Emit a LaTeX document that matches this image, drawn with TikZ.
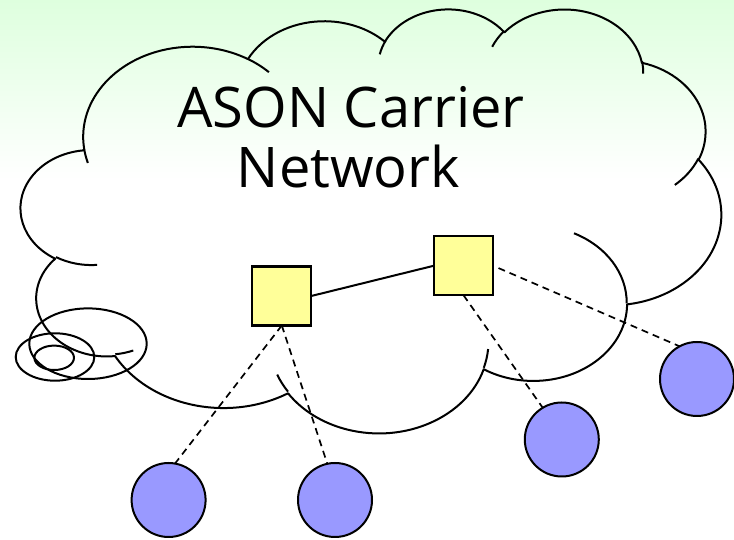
\documentclass[tikz,border=0pt]{standalone}
\usepackage{fontspec}
\setmainfont{Open Sans}
\definecolor{bggreen}{RGB}{222,255,222}
\definecolor{sqfill}{RGB}{255,255,153}
\definecolor{cifill}{RGB}{153,153,255}
% cloud arc helper: id, wR, hR, start angle (deg, DrawingML), sweep (deg)
\newcommand\cldarc[5]{%
  \pgfmathsetmacro\cldtA{#4}%
  \pgfmathsetmacro\cldtB{#4+#5}%
  \pgfmathsetmacro\cldpA{atan2(#2*sin(\cldtA),#3*cos(\cldtA))}%
  \pgfmathsetmacro\cldpB{atan2(#2*sin(\cldtB),#3*cos(\cldtB))}%
  \pgfmathsetmacro\cldd{mod(\cldpB-\cldpA+720,360)}%
  \pgfmathsetmacro\cldtmpS{-\cldpA}%
  \pgfmathsetmacro\cldtmpD{-\cldd}%
  \pgfmathsetmacro\cldtmpX{#2*0.0162037}%
  \pgfmathsetmacro\cldtmpY{#3*0.0098148}%
  \edef\cldtmp{\noexpand\tikzset{cld#1/.style={start angle=\cldtmpS,delta angle=\cldtmpD,x radius=\cldtmpX pt,y radius=\cldtmpY pt}}}%
  \cldtmp}
% outline arcs
\cldarc{A}{6753}{9190}{-190.4875}{123.7805}
\cldarc{B}{5333}{7267}{-144.1024}{89.9452}
\cldarc{C}{4365}{5945}{-145.8079}{99.7230}
\cldarc{D}{4857}{6595}{-130.9861}{117.2417}
\cldarc{E}{5333}{7273}{-78.7089}{109.0269}
\cldarc{F}{6775}{9220}{-46.2673}{130.2690}
\cldarc{G}{5785}{7867}{0.6250}{114.0333}
\cldarc{H}{6752}{9215}{22.4516}{115.1726}
\cldarc{I}{7720}{10543}{66.2426}{75.7110}
\cldarc{J}{4360}{5918}{-274.9421}{146.7356}
\cldarc{K}{4345}{5945}{-246.8285}{152.5189}
% inner arcs
\cldarc{a}{4345}{5945}{86.7420}{26.4295}
\cldarc{b}{4360}{5918}{73.6105}{11.4475}
\cldarc{c}{6752}{9215}{137.6242}{14.0811}
\cldarc{d}{6752}{9215}{6.4533}{15.9984}
\cldarc{e}{5785}{7867}{-70.2924}{70.9174}
\cldarc{f}{5333}{7273}{30.3180}{27.7515}
\cldarc{g}{4857}{6595}{-13.7443}{14.8589}
\cldarc{h}{4857}{6595}{-149.1815}{18.1954}
\cldarc{i}{4365}{5945}{-163.4943}{17.6864}
\cldarc{j}{6753}{9190}{-66.7070}{12.3194}
\cldarc{k}{6753}{9190}{157.6544}{11.8582}
\tikzset{
  cloudline/.style={line width=2pt, line join=round},
  sqbox/.style={draw, line width=2.2pt, fill=sqfill, minimum size=59pt, inner sep=0pt, outer sep=0pt},
  endpt/.style={circle, draw, line width=2pt, fill=cifill, minimum size=74pt, inner sep=0pt, outer sep=0pt},
  dashln/.style={line width=1.7pt, dash pattern=on 7pt off 5pt},
  solidln/.style={line width=2pt},
  title/.style={font=\fontsize{56}{60}\selectfont, anchor=base, inner sep=0pt}
}
\begin{document}
\begin{tikzpicture}[x=1pt,y=1pt]
\useasboundingbox (0,0) rectangle (734,540);
\fill[white] (0,0) rectangle (734,540);
\fill[top color=bggreen, bottom color=white] (0,360) rectangle (734,540);
% cloud
\begin{scope}[shift={(21pt,532pt)}, x=1.62037pt, y=-0.98148pt]
\draw[cloudline] (39.00,143.70) arc[cldA] arc[cldB] arc[cldC] arc[cldD] arc[cldE]
  arc[cldF] arc[cldG] arc[cldH] arc[cldI] arc[cldJ] arc[cldK] -- cycle;
\draw[cloudline]
  (46.93,261.77) arc[clda]
  (69.28,348.99) arc[cldb]
  (164.78,390.90) arc[cldc]
  (288.27,347.51) arc[cldd]
  (341.29,229.54) arc[clde]
  (417.98,153.54) arc[cldf]
  (383.24,54.26) arc[cldg]
  (290.78,39.52) arc[cldh]
  (221.41,47.20) arc[cldi]
  (140.00,51.92) arc[cldj]
  (41.27,157.89) arc[cldk];
\end{scope}
% callout bubbles
\draw[cloudline] (88,196.3) ellipse [x radius=58.7, y radius=35.3];
\draw[cloudline] (55,183) ellipse [x radius=39.3, y radius=23.7];
\draw[cloudline] (54.2,182.2) ellipse [x radius=19.8, y radius=12.2];
% title
\node[title] (t1) at (351,412) {ASON Carrier};
\node[title] (t2) at (348.5,352) {Network};
% nodes
\node[sqbox] (s1) at (281.8,244) {};
\node[sqbox] (s2) at (463.5,274.3) {};
\node[endpt] (c1) at (168.6,40) {};
\node[endpt] (c2) at (335,40) {};
\node[endpt] (c3) at (561.8,100.5) {};
\node[endpt] (c4) at (697,161) {};
% links
\draw[solidln] (s1.east) -- (s2.west);
\draw[dashln] (s1.south) -- (c1.80);
\draw[dashln] (s1.south) -- (c2.102);
\draw[dashln] (s2.south) -- (c3.121);
\draw[dashln, shorten <=6pt] (s2.east) -- (c4.118);
\end{tikzpicture}
\end{document}
